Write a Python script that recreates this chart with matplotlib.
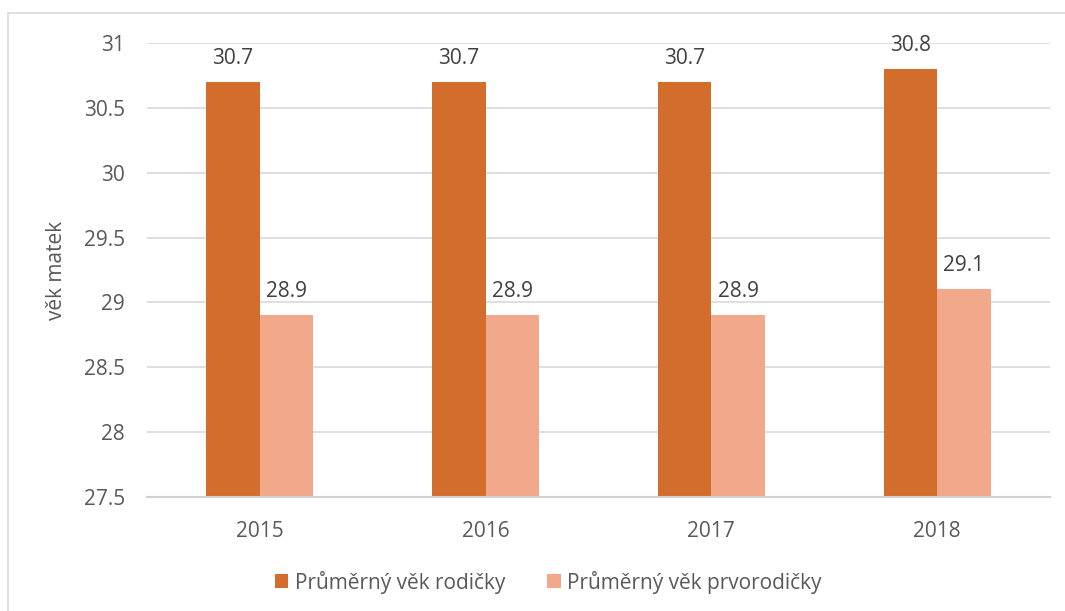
import matplotlib
matplotlib.use("Agg")
import matplotlib.pyplot as plt
import numpy as np
from matplotlib.patches import Patch, Rectangle

years = ["2015", "2016", "2017", "2018"]
vek_rodicky = [30.7, 30.7, 30.7, 30.8]
vek_prvorodicky = [28.9, 28.9, 28.9, 29.1]
series_names = ["Průměrný věk rodičky", "Průměrný věk prvorodičky"]
colors = ["#D36D2B", "#F1A88B"]

plt.rcParams['font.family'] = ['Open Sans', 'DejaVu Sans']
txt = "#595959"
fs = 15

fig = plt.figure(figsize=(10.65, 6.11), dpi=100)
ax = fig.add_axes([147/1065, 1-497/611, 903/1065, 454/611])

# outer frame
fig.patches.append(Rectangle((8/1065, -0.1), 1.2, 1 - 13/611 + 0.1, transform=fig.transFigure,
                             fill=False, edgecolor="#D9D9D9", linewidth=1.2))

x = np.arange(len(years))
w = 0.237
base = 27.5
b1 = ax.bar(x - w/2, np.array(vek_rodicky) - base, w, bottom=base, color=colors[0], zorder=3)
b2 = ax.bar(x + w/2, np.array(vek_prvorodicky) - base, w, bottom=base, color=colors[1], zorder=3)

for bars, vals in ((b1, vek_rodicky), (b2, vek_prvorodicky)):
    for r, v in zip(bars, vals):
        ax.annotate(f"{v}", (r.get_x() + r.get_width()/2, v), xytext=(0, 13),
                    textcoords="offset points", ha="center", va="baseline",
                    fontsize=fs, color="#404040", zorder=4)

ax.set_xlim(-0.5, len(years) - 0.5)
ax.set_ylim(27.5, 31)
ax.set_yticks(np.arange(27.5, 31.01, 0.5))
ax.set_yticklabels(["27.5", "28", "28.5", "29", "29.5", "30", "30.5", "31"])
ax.set_xticks(x)
ax.set_xticklabels(years)
ax.tick_params(axis="both", length=0, labelsize=fs, colors=txt)
ax.tick_params(axis="y", pad=16)
ax.tick_params(axis="x", pad=17)
ax.grid(axis="y", color="#D9D9D9", linewidth=1.2, zorder=0)
ax.set_axisbelow(True)
for s in ["top", "right", "left"]:
    ax.spines[s].set_visible(False)
ax.spines["bottom"].set_color("#D0D0D0")
ax.spines["bottom"].set_linewidth(1.5)
ax.spines["bottom"].set_zorder(4)

fig.text(57/1065, 1 - 270/611, "věk matek", rotation=90, ha="center", va="center",
         fontsize=fs, color=txt)

handles = [Patch(facecolor=c, edgecolor="none") for c in colors]
fig.legend(handles, series_names, loc="center", bbox_to_anchor=(548/1065, 1 - 582/611),
           ncol=2, frameon=False, fontsize=fs, labelcolor=txt, handlelength=0.67,
           handleheight=0.67, handletextpad=0.3, columnspacing=2.0)

fig.savefig("out.png", dpi=100)
